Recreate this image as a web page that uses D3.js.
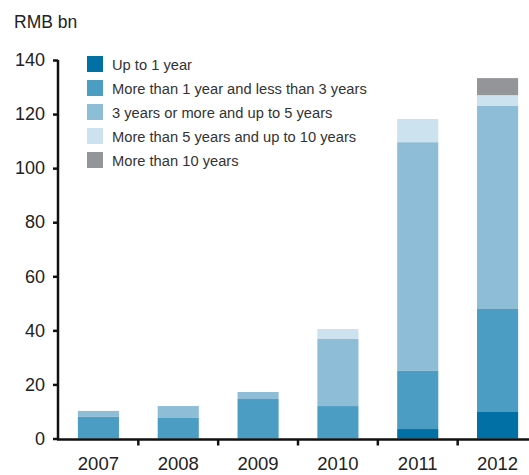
<!DOCTYPE html>
<html>
<head>
<meta charset="utf-8">
<script src="https://cdn.jsdelivr.net/npm/d3@7"></script>
<style>
  html, body { margin: 0; padding: 0; background: #fff; }
  svg { display: block; font-family: "Liberation Sans", Arial, Helvetica, sans-serif; }
</style>
</head>
<body>
<svg id="chart" width="529" height="475"></svg>
<script>
const years = ["2007", "2008", "2009", "2010", "2011", "2012"];
const seriesNames = [
  "Up to 1 year",
  "More than 1 year and less than 3 years",
  "3 years or more and up to 5 years",
  "More than 5 years and up to 10 years",
  "More than 10 years"
];
const upTo1 = [0, 0, 0, 0, 3.5, 9.8];
const y1to3 = [8.0, 7.6, 14.6, 12.0, 21.5, 38.1];
const y3to5 = [2.2, 4.4, 2.6, 24.8, 84.6, 75.1];
const y5to10 = [0, 0, 0, 3.7, 8.6, 4.0];
const over10 = [0, 0, 0, 0, 0, 6.3];
const colors = ["#0070a5", "#4c9dc4", "#8dbdd7", "#cce2ee", "#939598"];
const yTicks = [0, 20, 40, 60, 80, 100, 120, 140];
const unitLabel = "RMB bn";

const svgEl = d3.select("#chart");
const seriesValues = [upTo1, y1to3, y3to5, y5to10, over10];
const table = years.map((yr, i) => {
  const row = { year: yr };
  seriesNames.forEach((s, j) => row[s] = seriesValues[j][i]);
  return row;
});
const stacked = d3.stack().keys(seriesNames)(table);

const x = d3.scaleBand().domain(years).range([58.5, 537.5]).paddingInner(0.485).paddingOuter(0.2425);
const y = d3.scaleLinear().domain([0, 140]).range([438.5, 60]);

// bars
svgEl.append("g").selectAll("g").data(stacked).join("g")
  .attr("fill", (d, i) => colors[i])
  .selectAll("rect").data(d => d).join("rect")
  .attr("x", d => x(d.data.year))
  .attr("width", x.bandwidth())
  .attr("y", d => y(d[1]))
  .attr("height", d => Math.max(0, y(d[0]) - y(d[1])));

// y axis
const yAxis = svgEl.append("g").attr("transform", "translate(58,0)")
  .call(d3.axisLeft(y).tickValues(yTicks).tickSize(5).tickPadding(8).tickFormat(d3.format("d")));
yAxis.select(".domain").attr("stroke", "#111").attr("stroke-width", 2.5).attr("d", `M0,${y(140)}V${y(0) + 1.5}`);
yAxis.selectAll(".tick line").attr("stroke", "#111").attr("stroke-width", 2.5);
yAxis.selectAll(".tick text").attr("font-size", 18).attr("fill", "#222")
  .attr("font-family", "'Liberation Sans', Arial, sans-serif");

// x axis
const step = x.step();
const boundaries = years.slice(1).map(yr => x(yr) - x.paddingInner() * step / 2);
const xAxisG = svgEl.append("g").attr("transform", `translate(0,${y(0) + 1})`);
xAxisG.append("line").attr("x1", 57).attr("x2", 529).attr("y1", 0).attr("y2", 0)
  .attr("stroke", "#111").attr("stroke-width", 2.5);
xAxisG.selectAll("line.tk").data(boundaries).join("line").attr("class", "tk")
  .attr("x1", d => d).attr("x2", d => d).attr("y1", 0).attr("y2", 6)
  .attr("stroke", "#111").attr("stroke-width", 2.5);
xAxisG.selectAll("text").data(years).join("text")
  .attr("x", d => x(d) + x.bandwidth() / 2)
  .attr("y", 30.5)
  .attr("text-anchor", "middle")
  .attr("font-size", 18.5).attr("fill", "#222")
  .text(d => d);

// unit label
svgEl.append("text").attr("x", 14).attr("y", 28).attr("font-size", 17.5).attr("fill", "#222").text(unitLabel);

// legend
const legend = svgEl.append("g").attr("transform", "translate(87,56)");
const lg = legend.selectAll("g").data(seriesNames).join("g")
  .attr("transform", (d, i) => `translate(0,${i * 24})`);
lg.append("rect").attr("width", 16).attr("height", 16).attr("fill", (d, i) => colors[i]);
lg.append("text").attr("x", 25).attr("y", 13.5).attr("font-size", 14.7).attr("fill", "#333").text(d => d);
</script>
</body>
</html>
